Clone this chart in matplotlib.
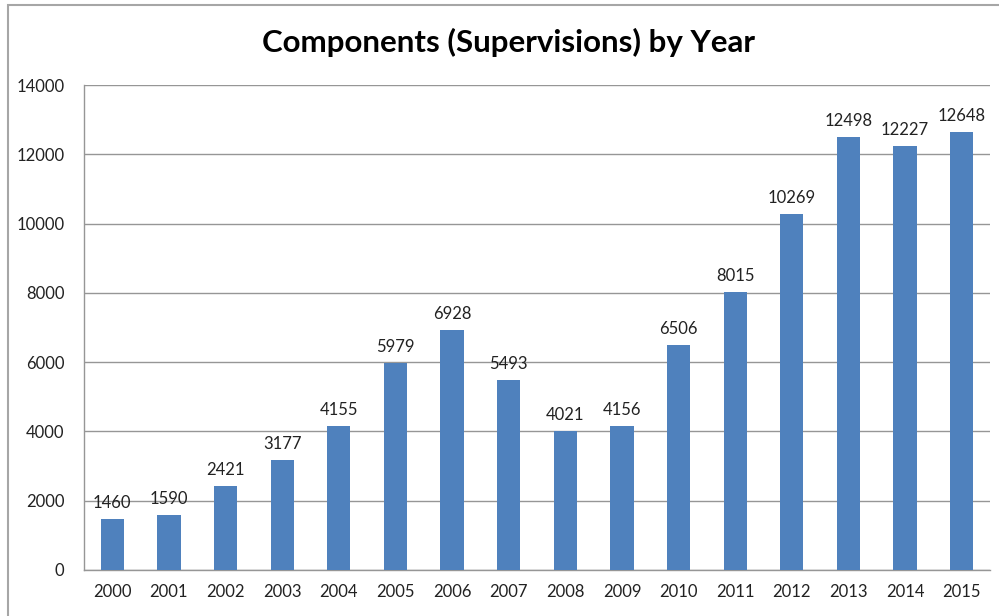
import matplotlib
matplotlib.use("Agg")
import matplotlib.pyplot as plt
from matplotlib.patches import Rectangle

years = ["2000", "2001", "2002", "2003", "2004", "2005", "2006", "2007",
         "2008", "2009", "2010", "2011", "2012", "2013", "2014", "2015"]
values = [1460, 1590, 2421, 3177, 4155, 5979, 6928, 5493,
          4021, 4156, 6506, 8015, 10269, 12498, 12227, 12648]
yticks = [0, 2000, 4000, 6000, 8000, 10000, 12000, 14000]
title = "Components (Supervisions) by Year"

plt.rcParams['font.family'] = ['Lato', 'DejaVu Sans']

W, H = 999, 616
fig = plt.figure(figsize=(W / 100, H / 100), dpi=100)

# outer chart border
fig.patches.append(Rectangle((8 / W, -0.1), 1.2, (1 - 5 / H) + 0.1,
                             transform=fig.transFigure, fill=False,
                             edgecolor="#a6a6a6", linewidth=1.5))

ax = fig.add_axes([84 / W, 1 - 570 / H, (990 - 84) / W, (570 - 85) / H])
x = list(range(len(years)))
ax.bar(x, values, width=0.41, color="#4F81BD", zorder=3)
for xi, v in zip(x, values):
    ax.text(xi, v + 230, str(v), ha="center", va="bottom", fontsize=12,
            color="#222222", zorder=4)

ax.set_xlim(-0.5, len(years) - 0.5)
ax.set_ylim(0, 14000)
ax.set_yticks(yticks)
ax.set_yticklabels([str(t) for t in yticks])
ax.set_xticks(x)
ax.set_xticklabels(years)
ax.tick_params(axis="both", length=0, labelsize=12, colors="#222222")
ax.tick_params(axis="x", pad=10)
ax.tick_params(axis="y", pad=14)
ax.grid(axis="y", color="#969696", linewidth=1, zorder=0)
for s in ["top", "right"]:
    ax.spines[s].set_visible(False)
for s in ["left", "bottom"]:
    ax.spines[s].set_color("#969696")
    ax.spines[s].set_linewidth(1)

fig.text(508 / W, 1 - 42 / H, title, ha="center", va="center",
         fontsize=22.5, fontweight="bold", color="black")

fig.savefig("out.png", dpi=100)
